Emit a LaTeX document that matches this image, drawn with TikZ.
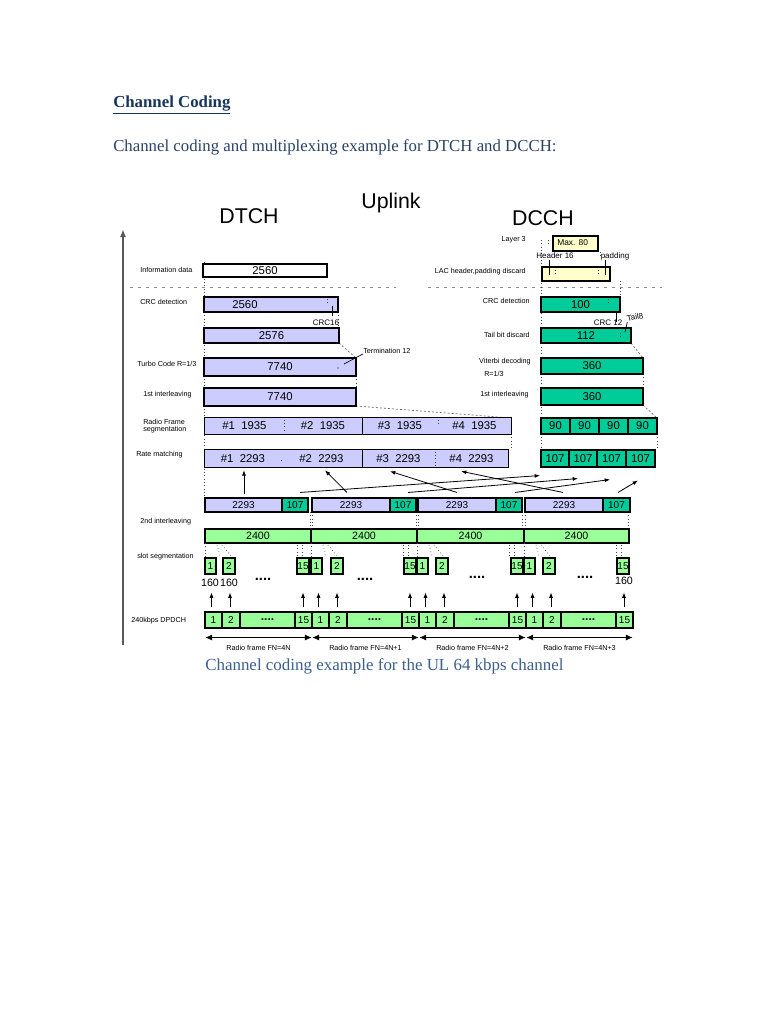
\documentclass[tikz,border=0pt]{standalone}
\usepackage{fontspec}
\setmainfont{Liberation Serif}
\newfontfamily\ar{Liberation Sans}
\usetikzlibrary{arrows.meta,calc}
\newcommand\myfs[1]{\fontsize{#1}{#1}\selectfont}
\definecolor{lav}{HTML}{CCCCFF}
\definecolor{tealg}{HTML}{00CC99}
\definecolor{lgreen}{HTML}{99FF99}
\definecolor{yel}{HTML}{FFFFCC}
\definecolor{hdr}{HTML}{17365D}
\definecolor{hdrb}{HTML}{2A4365}
\definecolor{capc}{HTML}{3B5F8F}
\begin{document}
\begin{tikzpicture}[x=0.75pt,y=-0.75pt,
  rc/.style n args={4}{at={({((#1)+(#3))/2},{((#2)+(#4))/2})}, minimum width={((#3)-(#1))*0.75pt}, minimum height={((#4)-(#2))*0.75pt}},
  box/.style={draw=black, line width=0.8pt, inner sep=0pt, font=\ar\myfs{8.5}},
  cellc/.style={inner sep=0pt, font=\ar\myfs{8.5}},
  lavb/.style={box, fill=lav},
  tealb/.style={box, fill=tealg},
  grnb/.style={box, fill=lgreen},
  yelb/.style={box, fill=yel},
  whb/.style={box, fill=white},
  lavc/.style={cellc, fill=lav},
  num/.style={inner sep=0pt, font=\ar\myfs{8.5}},
  lbl/.style={inner sep=0pt, font=\ar\myfs{5.4}},
  lbls/.style={inner sep=0pt, font=\ar\myfs{6}},
  dots/.style={inner sep=0pt, font=\ar\myfs{11}\bfseries},
  outl/.style={line width=0.8pt},
  dot/.style={dotted, line width=0.5pt, black!75},
  dsh/.style={dash pattern=on 1.5pt off 1.5pt, line width=0.5pt, black!60},
  sep/.style={dash pattern=on 2pt off 4pt, line width=0.6pt, black!45},
  arr/.style={-{Latex[length=4pt,width=3pt]}, line width=0.6pt},
  rfa/.style={{Latex[length=5pt,width=4.5pt]}-{Latex[length=5pt,width=4.5pt]}, line width=0.5pt},
  tick/.style={line width=0.7pt}
]
\useasboundingbox[fill=white] (0,0) rectangle (768,1024);

% ---------- headings ----------
\node[anchor=base west, inner sep=0pt, font=\myfs{12.6}\bfseries, text=hdr] (t1) at (113,108) {\underline{Channel Coding}};
\node[anchor=base west, inner sep=0pt, font=\myfs{12.6}, text=hdrb] (t2) at (113,151) {Channel coding and multiplexing example for DTCH and DCCH:};
\node[anchor=base, inner sep=0pt, font=\ar\myfs{16}] (up) at (391,208) {Uplink};
\node[anchor=base, inner sep=0pt, font=\ar\myfs{16}] (dtch) at (249,223) {DTCH};
\node[anchor=base, inner sep=0pt, font=\ar\myfs{16}] (dcch) at (543,225) {DCCH};
\node[anchor=base west, inner sep=0pt, font=\myfs{12.7}, text=capc] (cap) at (205,670) {Channel coding example for the UL 64 kbps channel};

% ---------- axis and separator ----------
\coordinate (ax0) at (123,645);
\coordinate (ax1) at (123,229);
\draw[line width=1.3pt, black!65, -{Latex[length=6pt,width=4.5pt]}] (ax0) -- (ax1);
\coordinate (s0) at (130,287); \coordinate (s1) at (396,287);
\coordinate (s2) at (428,287); \coordinate (s3) at (662,287);
\draw[sep] (s0) -- (s1);
\draw[sep] (s2) -- (s3);

% ---------- guides (behind boxes) ----------
\draw[dot] (204,262) -- (204,498);
\draw[dot] (541,240) -- (541,450);
\draw[dot] (338,312) -- (338,328);
\draw[dot] (356,376) -- (356,388);
\draw[dot] (643,374) -- (643,388);
\draw[dot] (620,281) -- (620,297);
\draw[dot] (511,434) -- (511,450);
\draw[dot] (657,434) -- (657,450);
\draw[dsh] (339,343) -- (356,358);
\draw[dsh] (631,343) -- (643,358);
\draw[dsh] (356,406) -- (511,418);
\draw[dsh] (643,405) -- (657,418);

% ---------- left labels ----------
\node[lbl, anchor=west] (lInfo) at (140,270) {Information data};
\node[lbl, anchor=west] (lCrc) at (140,302) {CRC detection};
\node[lbl, anchor=west] (lTurbo) at (137,364) {Turbo Code R=1/3};
\node[lbl, anchor=west] (lInt1) at (143,395) {1st interleaving};
\node[lbl, anchor=west, align=left] (lRfs) at (143,426) {Radio Frame\\segmentation};
\node[lbl, anchor=west] (lRm) at (136,455) {Rate matching};
\node[lbl, anchor=west] (lInt2) at (140,522) {2nd interleaving};
\node[lbl, anchor=west] (lSlot) at (137,557) {slot segmentation};
\node[lbl, anchor=west] (lDp) at (131,621) {240kbps DPDCH};

% ---------- DTCH column ----------
\node[whb, rc={203}{264}{327}{277}] (info) {2560};
\node[lavb, rc={204}{297}{338}{312}] (crc) {};
\node[num] (crct) at (245,304.5) {2560};
\draw[dot] (327,299) -- (327,305);
\draw[tick] (332,306) -- (332,316);
\node[lbls] (crc16) at (326,323) {CRC16};
\node[lavb, rc={204}{328}{339}{343}] (b2576) {2576};
\node[lavb, rc={204}{358}{356}{376}] (turbo) {7740};
\fill (338,368) circle (0.6);
\coordinate (tm0) at (344,364);
\node[lbl, anchor=west] (term) at (363,351) {Termination 12};
\draw[line width=0.5pt] (tm0) -- (term.south west);
\node[lavb, rc={204}{388}{356}{406}] (int1) {7740};

% radio frame segmentation
\node[lavc, rc={205}{418}{284}{434}] (rf1) {\#1\ \ 1935};
\node[lavc, rc={284}{418}{362}{434}] (rf2) {\#2\ \ 1935};
\node[lavc, rc={362}{418}{438}{434}] (rf3) {\#3\ \ 1935};
\node[lavc, rc={438}{418}{511}{434}] (rf4) {\#4\ \ 1935};
\draw[outl] (rf1.north west) rectangle (rf4.south east);
\draw[outl] (rf2.north east) -- (rf2.south east);
\draw[dot] ($(rf1.north east)+(0,2)$) -- ($(rf1.south east)+(0,-2)$);
\draw[dot] ($(rf3.north east)+(0,2)$) -- ($(rf3.north east)+(0,7)$);

% rate matching
\node[lavc, rc={205}{450}{281}{467}] (rm1) {\#1\ \ 2293};
\node[lavc, rc={281}{450}{362}{467}] (rm2) {\#2\ \ 2293};
\node[lavc, rc={362}{450}{435}{467}] (rm3) {\#3\ \ 2293};
\node[lavc, rc={435}{450}{508}{467}] (rm4) {\#4\ \ 2293};
\draw[outl] (rm1.north west) rectangle (rm4.south east);
\draw[outl] (rm2.north east) -- (rm2.south east);
\draw[dot] ($(rm1.south east)+(0,-7)$) -- ($(rm1.south east)+(0,-4)$);
\draw[dot] ($(rm3.north east)+(0,2)$) -- ($(rm3.south east)+(0,-2)$);

% ---------- DCCH column ----------
\node[lbl, anchor=east] (lL3) at (526,240) {Layer 3};
\draw[dot] (548,240) -- (548,245);
\node[yelb, rc={553}{236}{598}{251}] (max) {};
\node[inner sep=0pt, font=\ar\myfs{6.3}, anchor=west] (maxt) at (557,243) {Max. 80};
\node[lbls] (h16) at (555,256) {Header 16};
\node[lbls] (pad) at (615,256) {padding};
\draw[dot] (600,252) -- (600,258);
\node[lbl, anchor=east] (lLac) at (526,272) {LAC header,padding discard};
\node[yelb, rc={542}{267}{610}{281}] (lac) {};
\draw[tick] (549,260) -- (549,275);
\draw[tick] (605,260) -- (605,275);
\draw[dot] (555,270) -- (555,276);
\draw[dot] (598,270) -- (598,276);

\node[lbl, anchor=east] (lCrc2) at (530,301) {CRC detection};
\node[tealb, rc={541}{297}{620}{312}] (d100) {100};
\draw[dot] (608,299) -- (608,304);
\draw[tick] (616,312) -- (616,322);
\node[lbls] (crc12) at (608,323) {CRC 12};
\node[lbl, anchor=east] (lTail) at (530,335) {Tail bit discard};
\node[tealb, rc={541}{328}{631}{343}] (d112) {112};
\draw[dot] (620,333) -- (620,339);
\node[lbls, rotate=12] (tail8) at (635,317) {Tail8};
\draw[line width=0.5pt] (625,332) -- (tail8.south west);
\node[lbl, anchor=east] (lVit) at (531,362) {Viterbi decoding};
\node[lbl, anchor=west] (lVit2) at (484,374) {R=1/3};
\node[tealb, rc={541}{358}{643}{374}] (d360a) {360};
\node[lbl, anchor=east] (lInt1b) at (529,395) {1st interleaving};
\node[tealb, rc={541}{388}{643}{405}] (d360b) {360};
\node[tealb, rc={541}{418}{570}{434}] (n1) {90};
\node[tealb, rc={570}{418}{599}{434}] (n2) {90};
\node[tealb, rc={599}{418}{628}{434}] (n3) {90};
\node[tealb, rc={628}{418}{657}{434}] (n4) {90};
\node[tealb, rc={541}{450}{569}{467}] (e1) {107};
\node[tealb, rc={569}{450}{597}{467}] (e2) {107};
\node[tealb, rc={597}{450}{626}{467}] (e3) {107};
\node[tealb, rc={626}{450}{655}{467}] (e4) {107};

% ---------- concatenation row ----------
\draw[dot] (310,512) -- (310,529); \draw[dot] (312,512) -- (312,529);
\draw[dot] (416,512) -- (416,529); \draw[dot] (418,512) -- (418,529);
\draw[dot] (522,512) -- (522,529); \draw[dot] (525,512) -- (525,529);
\draw[dot] (628,512) -- (628,529);
\node[lavb, font=\ar\myfs{7.5}, rc={205}{498}{282}{512}] (c1l) {2293};
\node[tealb, font=\ar\myfs{7.5}, rc={282}{498}{308}{512}] (c1t) {107};
\node[lavb, font=\ar\myfs{7.5}, rc={312}{498}{390}{512}] (c2l) {2293};
\node[tealb, font=\ar\myfs{7.5}, rc={390}{498}{416}{512}] (c2t) {107};
\node[lavb, font=\ar\myfs{7.5}, rc={418}{498}{496}{512}] (c3l) {2293};
\node[tealb, font=\ar\myfs{7.5}, rc={496}{498}{522}{512}] (c3t) {107};
\node[lavb, font=\ar\myfs{7.5}, rc={525}{498}{603}{512}] (c4l) {2293};
\node[tealb, font=\ar\myfs{7.5}, rc={603}{498}{630}{512}] (c4t) {107};

% arrows to rate matching
\draw[arr] ($(c1l.north)+(0.5,-3)$) -- ($(rm1.south)+(1,3)$);
\draw[arr] ($(c2l.north)+(-4,-5)$) -- ($(rm2.south)+(3.5,3)$);
\draw[arr] ($(c3l.north)+(0,-5)$) -- ($(rm3.south)+(-8.5,4)$);
\draw[arr] ($(c4l.north)+(-1,-5)$) -- ($(rm4.south)+(-10.5,4)$);
% arrows to DCCH 107
\draw[arr] ($(c1t.north)+(5,-5)$) -- ($(e1.south)+(-15,8)$);
\draw[arr] ($(c2t.north)+(5,-5)$) -- ($(e2.south)+(-5,11)$);
\draw[arr] ($(c3t.north)+(6,-5)$) -- ($(e3.south)+(-1.5,12)$);
\draw[arr] ($(c4t.north)+(1.5,-5)$) -- ($(e4.south)+(-2.5,13)$);

% ---------- 2nd interleaving ----------
\node[grnb, font=\ar\myfs{8}, rc={205}{529}{311}{543}] (i1) {2400};
\node[grnb, font=\ar\myfs{8}, rc={311}{529}{417}{543}] (i2) {2400};
\node[grnb, font=\ar\myfs{8}, rc={417}{529}{524}{543}] (i3) {2400};
\node[grnb, font=\ar\myfs{8}, rc={524}{529}{629}{543}] (i4) {2400};

% ---------- slot segmentation ----------
\foreach \f/\s in {1/205,2/311,3/417,4/524}{
  \draw[dot] (\s,543) -- (\s,558);
  \draw[dot] (\s+12,545) -- (\s+15,556);
  \draw[dot] (\s+17,545) -- (\s+27,557);
  \draw[dot] (\s+92,545) -- (\s+92,556);
  \draw[dot] (\s+97,545) -- (\s+97,556);
}
\foreach \f/\xa/\xb/\xc in {1/205/223/297,2/311/331/404,3/417/436/511,4/524/543/617}{
  \node[grnb, font=\ar\myfs{7.5}, rc={\xa}{558}{\xa+11}{574}] (s\f a) {1};
  \node[grnb, font=\ar\myfs{7.5}, rc={\xb}{558}{\xb+12}{574}] (s\f b) {2};
  \node[grnb, font=\ar\myfs{7.5}, rc={\xc}{558}{\xc+12}{574}] (s\f c) {15};
}
\node[inner sep=0pt, font=\ar\myfs{8}] (n160a) at (210,583) {160};
\node[inner sep=0pt, font=\ar\myfs{8}] (n160b) at (229,583) {160};
\node[inner sep=0pt, font=\ar\myfs{8}] (n160c) at (624,581) {160};
\node[dots] (dd1) at (263,579) {....};
\node[dots] (dd2) at (365,579) {....};
\node[dots] (dd3) at (477,577) {....};
\node[dots] (dd4) at (585,577) {....};

% ---------- DPDCH ----------
\foreach \f/\s/\t in {1/205/{Radio frame FN=4N},2/312/{Radio frame FN=4N+1},3/419/{Radio frame FN=4N+2},4/526/{Radio frame FN=4N+3}}{
  \node[grnb, font=\ar\myfs{7.5}, rc={\s}{612}{\s+17}{628}] (d\f a) {1};
  \node[grnb, font=\ar\myfs{7.5}, rc={\s+17}{612}{\s+35}{628}] (d\f b) {2};
  \node[grnb, font=\ar\myfs{9}\bfseries, rc={\s+35}{612}{\s+90}{628}] (d\f d) {\raisebox{1.2pt}{....}};
  \node[grnb, font=\ar\myfs{7.5}, rc={\s+90}{612}{\s+107}{628}] (d\f c) {15};
  \draw[arr] ($(d\f a.north)+(-2,-4)$) -- ++(0,-15);
  \draw[arr] ($(d\f b.north)+(-1,-4)$) -- ++(0,-15);
  \draw[arr] ($(d\f c.north)+(-0.5,-4)$) -- ++(0,-15);
  \draw[rfa] ($(d\f a.south west)+(1,9)$) -- ($(d\f c.south east)+(-1,9)$);
  \node[lbl] (rl\f) at ($(d\f a.south west)!0.5!(d\f c.south east)+(0,19)$) {\t};
}
\end{tikzpicture}
\end{document}
